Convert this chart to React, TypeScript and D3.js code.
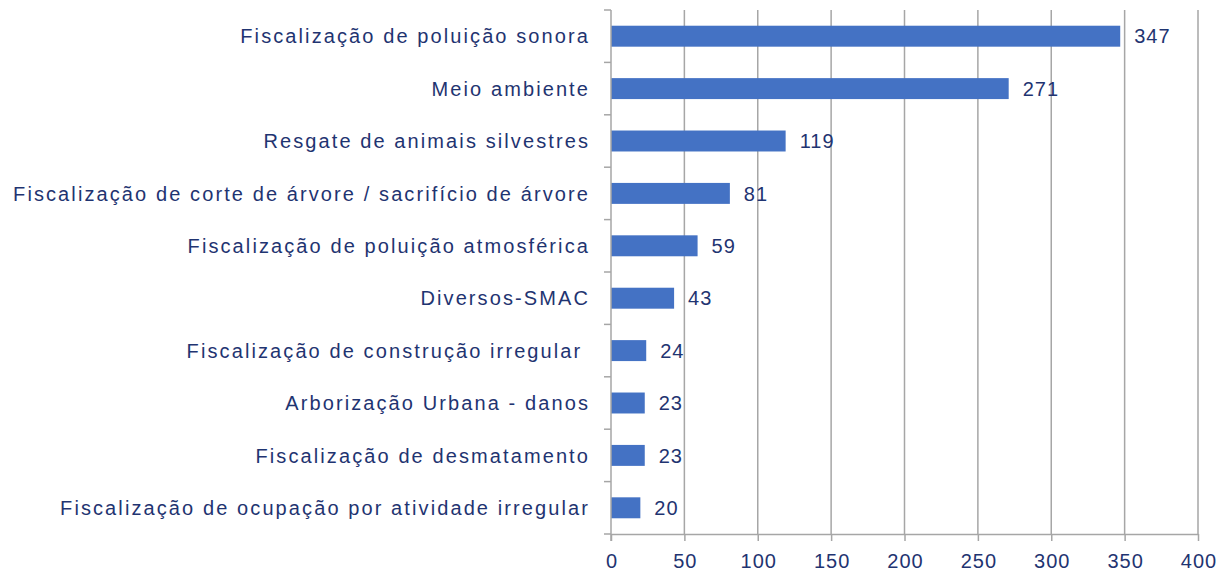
import React, { useEffect, useRef } from 'react';
import * as d3 from 'd3';

const categories = [
  'Fiscalização de poluição sonora',
  'Meio ambiente',
  'Resgate de animais silvestres',
  'Fiscalização de corte de árvore / sacrifício de árvore',
  'Fiscalização de poluição atmosférica',
  'Diversos-SMAC',
  'Fiscalização de construção irregular ',
  'Arborização Urbana - danos',
  'Fiscalização de desmatamento',
  'Fiscalização de ocupação por atividade irregular',
];
const values = [347, 271, 119, 81, 59, 43, 24, 23, 23, 20];
const xTicks = [0, 50, 100, 150, 200, 250, 300, 350, 400];

const App = () => {
  const ref = useRef(null);

  useEffect(() => {
    document.body.style.margin = '0';
    const svg = d3.select(ref.current)
      .attr('width', 1226)
      .attr('height', 578)
      .style('background-color', '#ffffff');
    svg.selectAll('*').remove();

    const left = 611, right = 1198, top = 10, bottom = 534;
    const textColor = '#1f3471';
    const font = '"Liberation Sans", Arial, sans-serif';
    const size = '20px';

    const x = d3.scaleLinear().domain([0, 400]).range([left, right]);
    const y = d3.scaleBand()
      .domain(categories)
      .range([top, bottom])
      .paddingInner(0.6)
      .paddingOuter(0.3);

    // grid
    svg.append('g')
      .selectAll('line')
      .data(xTicks.slice(1))
      .enter().append('line')
      .attr('x1', d => x(d)).attr('x2', d => x(d))
      .attr('y1', top).attr('y2', bottom)
      .attr('stroke', '#a6a6a6').attr('stroke-width', 1.5);

    // bars
    svg.append('g')
      .selectAll('rect')
      .data(values)
      .enter().append('rect')
      .attr('x', x(0))
      .attr('y', (d, i) => y(categories[i]))
      .attr('width', d => x(d) - x(0))
      .attr('height', y.bandwidth())
      .attr('fill', '#4472c4');

    // value labels
    svg.append('g')
      .selectAll('text')
      .data(values)
      .enter().append('text')
      .attr('x', d => x(d) + 14)
      .attr('y', (d, i) => y(categories[i]) + y.bandwidth() / 2)
      .attr('dy', '0.36em')
      .style('font-family', font)
      .style('font-size', size)
      .style('letter-spacing', '1px')
      .style('fill', textColor)
      .text(d => d);

    // x axis
    const xAxis = svg.append('g')
      .attr('transform', `translate(0,${bottom})`)
      .call(d3.axisBottom(x).tickValues(xTicks).tickSize(7).tickSizeOuter(0).tickPadding(13));
    xAxis.select('.domain').attr('stroke', '#a6a6a6').attr('stroke-width', 1.5);
    xAxis.selectAll('line').attr('stroke', '#a6a6a6').attr('stroke-width', 1.5);
    xAxis.selectAll('text')
      .attr('dx', '0.5px')
      .style('font-family', font)
      .style('font-size', size)
      .style('letter-spacing', '1px')
      .style('fill', textColor);

    // y axis line and ticks at band boundaries
    const step = y.step();
    const boundaries = d3.range(categories.length + 1).map(i => top + i * step);
    svg.append('line')
      .attr('x1', left).attr('x2', left)
      .attr('y1', top).attr('y2', bottom + 7)
      .attr('stroke', '#a6a6a6').attr('stroke-width', 1.5);
    svg.append('g')
      .selectAll('line')
      .data(boundaries)
      .enter().append('line')
      .attr('x1', left - 7).attr('x2', left)
      .attr('y1', d => d).attr('y2', d => d)
      .attr('stroke', '#a6a6a6').attr('stroke-width', 1.5);

    // category labels
    svg.append('g')
      .selectAll('text')
      .data(categories)
      .enter().append('text')
      .attr('x', 590)
      .attr('y', d => y(d) + y.bandwidth() / 2)
      .attr('dy', '0.36em')
      .attr('text-anchor', 'end')
      .style('white-space', 'pre')
      .style('font-family', font)
      .style('font-size', size)
      .style('letter-spacing', '2.1px')
      .style('fill', textColor)
      .text(d => d);
  }, []);

  return <svg ref={ref}></svg>;
};

export default App;
